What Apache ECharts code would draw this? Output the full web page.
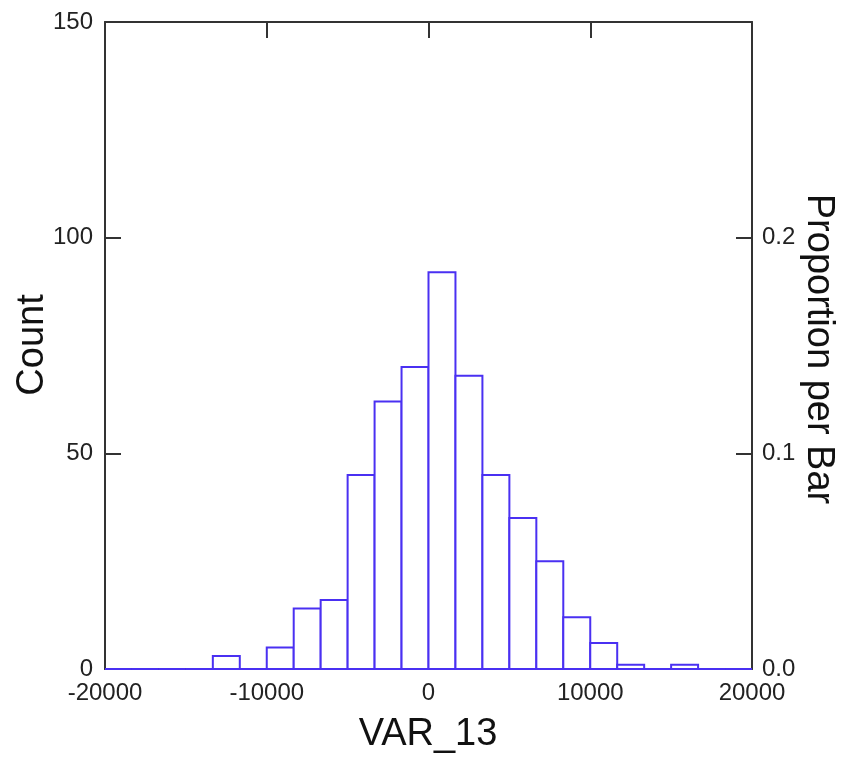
<!DOCTYPE html>
<html>
<head>
<meta charset="utf-8">
<script src="https://cdn.jsdelivr.net/npm/echarts@6/dist/echarts.min.js"></script>
<style>
html,body{margin:0;padding:0;background:#fff;}
#chart{width:842px;height:759px;}
</style>
</head>
<body>
<div id="chart"></div>
<script>
// Histogram of VAR_13: bins of width 10000/6 from -20000 to 20000
const binMin = -20000;
const binWidth = 10000 / 6;
const counts = [0, 0, 0, 0, 3, 0, 5, 14, 16, 45, 62, 70, 92, 68, 45, 35, 25, 12, 6, 1, 0, 1, 0, 0];
const xTicks = [-20000, -10000, 0, 10000, 20000];
const countTicks = [0, 50, 100, 150];
const propTicks = ['0.0', '0.1', '0.2'];
const xTitle = 'VAR_13';
const yTitle = 'Count';
const y2Title = 'Proportion per Bar';
const total = counts.reduce((a, b) => a + b, 0);

const data = counts.map((c, i) => [binMin + i * binWidth, binMin + (i + 1) * binWidth, c]);

const AX = '#333333';
const BAR = '#4a30f2';
const FONT = '"Liberation Sans", Arial, sans-serif';

const titleStyle = (t) => ({text: t, x: 0, y: 0, textAlign: 'center', textVerticalAlign: 'middle',
  font: '38px ' + FONT, fill: '#111'});

const chart = echarts.init(document.getElementById('chart'), null, {renderer: 'canvas'});
chart.setOption({
  animation: false,
  backgroundColor: '#ffffff',
  grid: {left: 105, right: 90, top: 22, bottom: 90, containLabel: false, outerBoundsMode: 'none'},
  graphic: [
    {type: 'text', x: 428, y: 735, style: titleStyle(xTitle)},
    {type: 'text', x: 33, y: 345, rotation: Math.PI / 2, style: titleStyle(yTitle)},
    {type: 'text', x: 818, y: 349, rotation: -Math.PI / 2, style: titleStyle(y2Title)}
  ],
  xAxis: [{
    type: 'value', position: 'bottom',
    min: xTicks[0], max: xTicks[xTicks.length - 1], interval: 10000,
    axisLine: {show: true, onZero: false, lineStyle: {color: AX, width: 2}},
    axisTick: {show: false},
    splitLine: {show: false},
    axisLabel: {fontFamily: FONT, fontSize: 24, color: '#222', margin: 12,
      formatter: function (v) { return String(v); }}
  }, {
    type: 'value', position: 'top',
    min: xTicks[0], max: xTicks[xTicks.length - 1], interval: 10000,
    axisLine: {show: true, onZero: false, lineStyle: {color: AX, width: 2}},
    axisTick: {show: true, inside: true, length: 16, lineStyle: {color: AX, width: 2}},
    axisLabel: {show: false},
    splitLine: {show: false}
  }],
  yAxis: [{
    type: 'value', position: 'left',
    min: countTicks[0], max: countTicks[countTicks.length - 1], interval: 50,
    axisLine: {show: true, onZero: false, lineStyle: {color: AX, width: 2}},
    axisTick: {show: true, inside: true, length: 16, lineStyle: {color: AX, width: 2}},
    splitLine: {show: false},
    axisLabel: {fontFamily: FONT, fontSize: 24, color: '#222', margin: 12}
  }, {
    type: 'value', position: 'right',
    min: 0, max: countTicks[countTicks.length - 1] / total, interval: 0.1,
    axisLine: {show: true, onZero: false, lineStyle: {color: AX, width: 2}},
    axisTick: {show: true, inside: true, length: 16, lineStyle: {color: AX, width: 2}},
    splitLine: {show: false},
    axisLabel: {
      fontFamily: FONT, fontSize: 24, color: '#222', margin: 10,
      formatter: function (v) {
        const s = v.toFixed(1);
        return propTicks.indexOf(s) >= 0 ? s : '';
      }
    }
  }],
  series: [{
    type: 'custom',
    xAxisIndex: 0, yAxisIndex: 0,
    data: data,
    renderItem: function (params, api) {
      const p0 = api.coord([api.value(0), api.value(2)]);
      const p1 = api.coord([api.value(1), 0]);
      return {
        type: 'rect',
        shape: {x: p0[0], y: p0[1], width: p1[0] - p0[0], height: p1[1] - p0[1]},
        style: {fill: '#ffffff', stroke: BAR, lineWidth: 2}
      };
    },
    z: 5
  }]
});
</script>
</body>
</html>
